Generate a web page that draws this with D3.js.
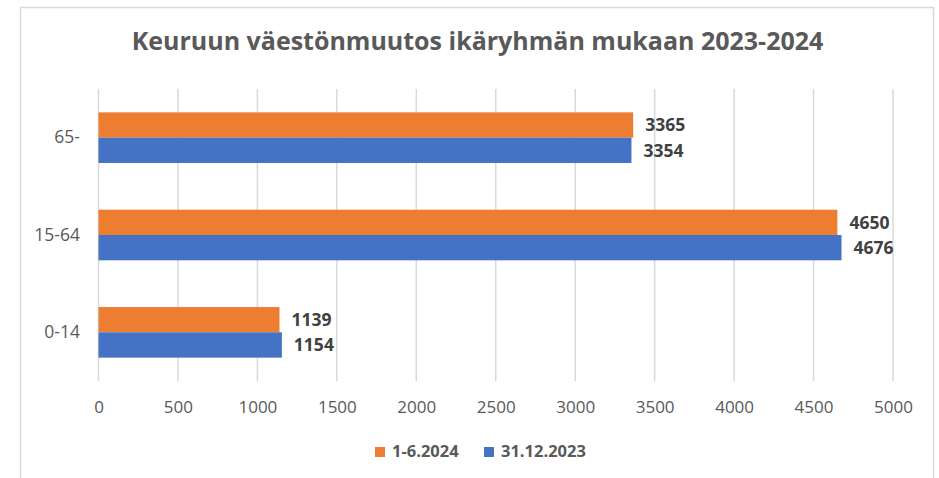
<!DOCTYPE html>
<html>
<head>
<meta charset="utf-8">
<script src="https://cdn.jsdelivr.net/npm/d3@7"></script>
<style>
  body { margin: 0; background: #ffffff; }
  svg { display: block; font-family: 'Open Sans', sans-serif; }
</style>
</head>
<body>
<svg id="chart"></svg>
<script>
// Chart data
const categories = ['65-', '15-64', '0-14'];
const seriesNames = ['1-6.2024', '31.12.2023'];
const values2024 = [3365, 4650, 1139];
const values2023 = [3354, 4676, 1154];
const tickValues = [0, 500, 1000, 1500, 2000, 2500, 3000, 3500, 4000, 4500, 5000];
const titleText = 'Keuruun väestönmuutos ikäryhmän mukaan 2023-2024';

// Build rows from the arrays
const data = categories.map((c, i) => ({
  category: c,
  '1-6.2024': values2024[i],
  '31.12.2023': values2023[i],
}));

const width = 939;
const height = 478;
const margin = { top: 89, right: 46, bottom: 97, left: 98.5 };

const colorScale = d3
  .scaleOrdinal()
  .domain(seriesNames)
  .range(['#ED7D31', '#4472C4']);

const svg = d3
  .select('#chart')
  .attr('width', width)
  .attr('height', height);

// Chart area border
svg
  .append('rect')
  .attr('x', 20.5)
  .attr('y', 7.5)
  .attr('width', 913)
  .attr('height', 490)
  .attr('fill', '#ffffff')
  .attr('stroke', '#d9d9d9')
  .attr('stroke-width', 1.5);

// Scales
const xScale = d3
  .scaleLinear()
  .domain([0, 5000])
  .range([margin.left, width - margin.right]);

const yScale = d3
  .scaleBand()
  .domain(categories)
  .range([margin.top, height - margin.bottom])
  .paddingInner(0.48)
  .paddingOuter(0.24);

const ySub = d3
  .scaleBand()
  .domain(seriesNames)
  .range([0, yScale.bandwidth()]);

// Gridlines
svg
  .append('g')
  .selectAll('line')
  .data(tickValues)
  .join('line')
  .attr('x1', (d) => xScale(d))
  .attr('x2', (d) => xScale(d))
  .attr('y1', margin.top)
  .attr('y2', height - margin.bottom)
  .attr('stroke', '#d9d9d9')
  .attr('stroke-width', 1.5);

// Bars
const groups = svg
  .append('g')
  .selectAll('g')
  .data(data)
  .join('g')
  .attr('transform', (d) => `translate(0,${yScale(d.category)})`);

groups
  .selectAll('rect')
  .data((d) => seriesNames.map((key) => ({ key, value: d[key] })))
  .join('rect')
  .attr('x', xScale(0))
  .attr('y', (d) => ySub(d.key))
  .attr('width', (d) => xScale(d.value) - xScale(0))
  .attr('height', ySub.bandwidth())
  .attr('fill', (d) => colorScale(d.key));

// Data labels
groups
  .selectAll('text')
  .data((d) => seriesNames.map((key) => ({ key, value: d[key] })))
  .join('text')
  .attr('x', (d) => xScale(d.value) + 12)
  .attr('y', (d) => ySub(d.key) + ySub.bandwidth() / 2)
  .attr('dy', '0.36em')
  .attr('fill', '#404040')
  .style('font-size', '17.5px')
  .style('font-weight', 'bold')
  .text((d) => d.value);

// X axis
const xAxisGroup = svg
  .append('g')
  .attr('transform', `translate(0,${height - margin.bottom})`)
  .call(
    d3
      .axisBottom(xScale)
      .tickValues(tickValues)
      .tickFormat(d3.format('d'))
      .tickSize(0)
      .tickPadding(20)
  );

xAxisGroup.select('.domain').remove();
xAxisGroup
  .selectAll('text')
  .attr('fill', '#595959')
  .style('font-size', '17px')
  .style('font-family', "'Open Sans', sans-serif");

// Y axis
const yAxisGroup = svg
  .append('g')
  .attr('transform', `translate(${margin.left},0)`)
  .call(d3.axisLeft(yScale).tickSize(0).tickPadding(18.5));

yAxisGroup.select('.domain').remove();
yAxisGroup
  .selectAll('text')
  .attr('fill', '#595959')
  .style('font-size', '17.5px')
  .style('font-family', "'Open Sans', sans-serif");

// Title
svg
  .append('text')
  .attr('x', 477.5)
  .attr('y', 50)
  .attr('text-anchor', 'middle')
  .attr('fill', '#595959')
  .style('font-size', '25px')
  .style('font-weight', 'bold')
  .text(titleText);

// Legend
const legendX = [375, 484];
const legend = svg
  .append('g')
  .selectAll('g')
  .data(seriesNames)
  .join('g')
  .attr('transform', (d, i) => `translate(${legendX[i]},447)`);

legend
  .append('rect')
  .attr('width', 10)
  .attr('height', 10)
  .attr('fill', (d) => colorScale(d));

legend
  .append('text')
  .attr('x', 17)
  .attr('y', 10)
  .attr('fill', '#595959')
  .style('font-size', '16.5px')
  .style('font-weight', 'bold')
  .text((d) => d);
</script>
</body>
</html>
